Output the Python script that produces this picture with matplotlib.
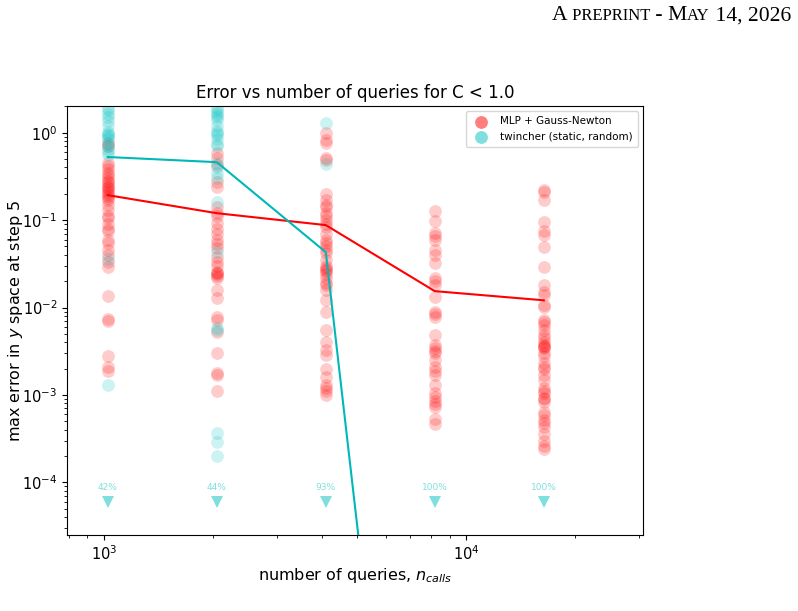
import matplotlib
matplotlib.use("Agg")
import matplotlib.pyplot as plt
import numpy as np

# ---------------- data ----------------
n_calls = [1024, 2048, 4096, 8192, 16384]

mlp_points = [
    [0.76, 0.70, 0.45, 0.42, 0.38, 0.35, 0.33, 0.30, 0.28, 0.27, 0.25, 0.24, 0.23, 0.22,
     0.21, 0.20, 0.19, 0.18, 0.17, 0.15, 0.13, 0.11, 0.105, 0.09, 0.08, 0.075, 0.059,
     0.055, 0.045, 0.04, 0.033, 0.029, 0.0136, 0.0073, 0.0071, 0.0028, 0.0021, 0.0019],
    [0.58, 0.51, 0.43, 0.27, 0.24, 0.142, 0.12, 0.11, 0.093, 0.08, 0.07, 0.06, 0.054,
     0.048, 0.038, 0.033, 0.03, 0.025, 0.023, 0.0257, 0.024, 0.022, 0.0157, 0.0128,
     0.0078, 0.0072, 0.0053, 0.0030, 0.0018, 0.0017, 0.0011],
    [0.98, 0.82, 0.76, 0.51, 0.49, 0.20, 0.17, 0.15, 0.14, 0.12, 0.11, 0.10, 0.09, 0.084,
     0.07, 0.059, 0.055, 0.05, 0.045, 0.042, 0.035, 0.03, 0.028, 0.027, 0.022, 0.026,
     0.024, 0.019, 0.018, 0.016, 0.0121, 0.0089, 0.0055, 0.0040, 0.0033, 0.0029, 0.0020,
     0.0016, 0.0013, 0.0012, 0.0011, 0.0010],
    [0.127, 0.098, 0.071, 0.066, 0.059, 0.045, 0.04, 0.032, 0.022, 0.02, 0.018, 0.0133,
     0.0089, 0.0085, 0.0078, 0.0048, 0.0037, 0.0034, 0.0032, 0.0030, 0.0025, 0.0021,
     0.0019, 0.0017, 0.0013, 0.00104, 0.00095, 0.00085, 0.00078, 0.00072, 0.00053,
     0.00047],
    [0.22, 0.21, 0.17, 0.096, 0.075, 0.068, 0.049, 0.029, 0.018, 0.015, 0.014, 0.0106,
     0.0102, 0.0072, 0.0068, 0.0063, 0.0056, 0.0048, 0.0045, 0.0040, 0.0037, 0.0036,
     0.0035, 0.0034, 0.0030, 0.0028, 0.0023, 0.0021, 0.0020, 0.0017, 0.0015, 0.0012,
     0.0011, 0.00104, 0.00093, 0.0009, 0.00082, 0.00064, 0.00059, 0.00052, 0.00048,
     0.00043, 0.00036, 0.0003, 0.00026, 0.00024],
]

twincher_points = [
    [1.9, 1.8, 1.65, 1.5, 1.35, 1.2, 1.02, 0.97, 0.93, 0.9, 0.85, 0.75, 0.7, 0.65, 0.6,
     0.55, 0.036, 0.00131],
    [1.9, 1.8, 1.7, 1.6, 1.5, 1.4, 1.2, 1.05, 1.0, 0.95, 0.85, 0.75, 0.7, 0.45, 0.4, 0.35,
     0.3, 0.162, 0.043, 0.0058, 0.0055, 0.00037, 0.00029, 0.0002],
    [1.3, 0.44],
    [],
    [],
]

mlp_line = [0.193, 0.12, 0.0877, 0.0154, 0.0121]
twincher_line = [0.527, 0.46, 0.043, 6e-13, 3e-13]

fail_pct = ["42%", "44%", "93%", "100%", "100%"]

header_parts = ["A", " PREPRINT", " - ", "M", "AY", " 14, 2026"]
header_small = [False, True, False, False, True, False]

# ---------------- figure ----------------
W, H = 798, 611
fig = plt.figure(figsize=(W / 100, H / 100), dpi=100)
ax = fig.add_axes([67 / W, 1 - 535 / H, (643 - 67) / W, (535 - 106) / H])

red = "red"
teal = (0.0, 0.72, 0.72)

for x, ys in zip(n_calls, mlp_points):
    ax.scatter([x] * len(ys), ys, s=85, color=red, alpha=0.2, linewidths=0, zorder=2)
for x, ys in zip(n_calls, twincher_points):
    if ys:
        ax.scatter([x] * len(ys), ys, s=85, color="c", alpha=0.2, linewidths=0, zorder=2)

ax.plot(n_calls, mlp_line, color=red, lw=1.5, zorder=3)
ax.plot(n_calls, twincher_line, color=teal, lw=1.5, zorder=3)

# failure markers
ax.plot(n_calls, [6e-5] * len(n_calls), linestyle="none", marker="v", markersize=9,
        color="c", alpha=0.5, markeredgewidth=0)
for x, t in zip(n_calls, fail_pct):
    ax.text(x, 8.8e-5, t, ha="center", va="center", fontsize=6.5, color="c", alpha=0.5)

ax.set_xscale("log")
ax.set_yscale("log")
ax.set_xlim(790, 30800)
ax.set_ylim(2.5e-5, 2.02)

ax.set_title("Error vs number of queries for C < 1.0", fontsize=12)
ax.set_xlabel("number of queries, $n_{calls}$", fontsize=11.5, labelpad=2)
ax.set_ylabel("max error in $y$ space at step 5", fontsize=11.5)
ax.yaxis.set_label_coords(-0.073, 0.5)
ax.tick_params(labelsize=10.5)

h1 = ax.scatter([], [], s=85, color=red, alpha=0.5, linewidths=0,
                label="MLP + Gauss-Newton")
h2 = ax.scatter([], [], s=85, color="c", alpha=0.5, linewidths=0,
                label="twincher (static, random)")
ax.legend(handles=[h1, h2], loc="upper right", fontsize=7.5, framealpha=0.8,
          borderpad=0.5, handletextpad=0.8)

# page header (small caps imitation), right edge at ~791 px
renderer = fig.canvas.get_renderer()
x_px = 550.0
base_y = 1 - 20.5 / H
texts = []
for txt, small in zip(header_parts, header_small):
    fs = 12.0 if small else 15.6
    t = fig.text(x_px / W, base_y, txt, fontsize=fs, family="Liberation Serif",
                 ha="left", va="baseline")
    bb = t.get_window_extent(renderer=renderer)
    texts.append(t)
    x_px = bb.x1
shift = 791.0 - x_px
for t in texts:
    px, py = t.get_position()
    t.set_position((px + shift / W, py))

fig.savefig("out.png", dpi=100)
